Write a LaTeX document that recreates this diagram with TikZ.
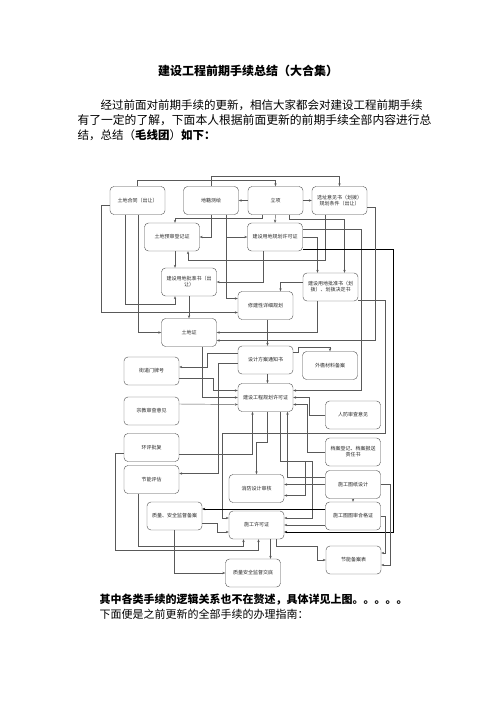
\documentclass[tikz,border=0pt]{standalone}
\usepackage{fontspec}
\setmainfont{Noto Sans CJK SC}
\usetikzlibrary{arrows.meta}

\tikzset{
  proc/.style={draw=black!70, rounded corners=4pt, minimum width=55pt, minimum height=28pt,
    inner sep=1pt, align=center, font=\fontsize{5}{6}\selectfont, text=black!85},
  wire/.style={draw=black!65, line width=0.45pt, ->},
  heavy/.style={draw=black, line width=0.6pt, ->},
  >={Stealth[length=3pt,width=2.4pt]}
}

\begin{document}
\begin{tikzpicture}[x=1pt, y=-1pt]
    \useasboundingbox (0,0) rectangle (496,702);

    % Title and text
    \node[font=\fontsize{12}{14}\selectfont\bfseries] (title) at (248,71) {建设工程前期手续总结（大合集）};
    \node[anchor=west, font=\fontsize{11.5}{14}\selectfont] (para1) at (97,105) {经过前面对前期手续的更新，相信大家都会对建设工程前期手续};
    \node[anchor=west, font=\fontsize{11.8}{14}\selectfont] (para2) at (74,120) {有了一定的了解，下面本人根据前面更新的前期手续全部内容进行总};
    \node[anchor=west, font=\fontsize{11.5}{14}\selectfont] (para3) at (74,135) {结，总结（{\bfseries 毛线团}）{\bfseries 如下：}};

    % Row 1
    \node[proc] (hetong) at (137.5,200.5) {土地合同（出让）};
    \node[proc] (diji) at (211,200.5) {地籍测绘};
    \node[proc] (lixiang) at (275.5,200.5) {立项};
    \node[proc] (xuanzhi) at (339.5,200.5) {选址意见书（划拨）\\规划条件（出让）};
    % Row 2
    \node[proc] (yushen) at (172,237) {土地预审登记证};
    \node[proc] (ydgh) at (275,237) {建设用地规划许可证};
    % Row 3
    \node[proc] (pzcr) at (189,282) {建设用地批准书（出\\让）};
    \node[proc] (pzhb) at (330.5,287) {建设用地批准书（划\\拨）、划拨决定书};
    \node[proc] (xxgh) at (265.5,305.5) {修建性详细规划};
    % Row 4
    \node[proc] (tdz) at (189,332.5) {土地证};
    \node[proc] (fatz) at (265.5,360) {设计方案通知书};
    \node[proc] (wycl) at (330,365.5) {外檐材料备案};
    \node[proc] (mph) at (151.5,371) {街道门牌号};
    % Row 5
    \node[proc] (gcgh) at (265.5,397.5) {建设工程规划许可证};
    \node[proc] (zjyj) at (151.5,411) {宗教审查意见};
    \node[proc] (rfyj) at (353,415) {人防审查意见};
    % Row 6
    \node[proc] (hp) at (151.5,447.5) {环评批复};
    \node[proc] (dadj) at (353,452) {档案登记、档案报送\\责任书};
    \node[proc] (jnpg) at (151.5,479.5) {节能评估};
    \node[proc] (sgtz) at (353,484.5) {施工图纸设计};
    \node[proc] (xfsh) at (256.5,488.5) {消防设计审核};
    % Row 7
    \node[proc] (zlba) at (174.5,516) {质量、安全监督备案};
    \node[proc] (sgxk) at (256.5,525) {施工许可证};
    \node[proc] (tsdz) at (353,516) {施工图图审合格证};
    % Row 8
    \node[proc] (jd) at (253,573) {质量安全监督交底};
    \node[proc] (jnba) at (353.5,560) {节能备案表};

    % Land and project approval
    \draw[wire] (hetong.north) -- ++(0,-6) -| (lixiang.north);
    \draw[wire] (diji.north) -- ++(0,-10) -| (xuanzhi.north);
    \draw[wire] (lixiang.west) -- (diji.east);
    \draw[wire] (lixiang.east) -- (xuanzhi.west);
    \draw[wire] (lixiang.south) -- (ydgh.north);
    \draw[wire] ([xshift=-13]lixiang.south) -- ++(0,4) -| ([xshift=3]yushen.north);
    \draw[wire] ([xshift=14]lixiang.south) -- ++(0,5) -| ([xshift=14]pzhb.north);
    \draw[wire] (diji.south) |- (yushen.east);
    \draw[wire] ([xshift=15]diji.south) |- ([yshift=7]xxgh.west);
    \draw[wire] ([xshift=15]diji.south) |- (ydgh.west);
    \draw[wire] ([yshift=-5]hetong.west) -- ++(-9,0) |- ([yshift=-7]xxgh.west);
    \draw[wire] ([xshift=-12]hetong.south) -- ++(0,90) -| ([xshift=-14]pzcr.south);
    \draw[wire] ([xshift=1]hetong.south) |- (tdz.west);
    \draw[wire] ([xshift=3]yushen.south) -- ([xshift=-14]pzcr.north);
    \draw[wire] ([xshift=-14]xuanzhi.south) -- ++(0,46) -| ([xshift=16]yushen.south);
    \draw[wire] ([xshift=-12]ydgh.south) |- (pzcr.east);
    \draw[wire] (ydgh.east) -| ([xshift=-13]pzhb.north);
    \draw[wire] ([yshift=8]ydgh.east) -- ++(59,0) |- ([yshift=7]gcgh.east);
    \draw[heavy] ([yshift=-12]ydgh.east) -- ++(91,0) |- ([yshift=-7]sgxk.east);
    \draw[wire] ([yshift=-7]xuanzhi.east) -- ++(8,0) |- ([yshift=-8]tdz.east);
    \draw[wire] ([xshift=-13]pzhb.south) |- (tdz.east);
    \draw[wire] ([yshift=5]pzhb.west) -| ([xshift=15]xxgh.north);
    \draw[wire] (pzcr.south) -- (tdz.north);
    \draw[wire] ([yshift=-13]pzhb.east) -- ++(27,0) |- (222,433) |- ([yshift=7]sgxk.west);

    % Planning permit
    \draw[wire] ([xshift=2]xxgh.south) -- ([xshift=2]fatz.north);
    \draw[wire] ([yshift=8]fatz.east) -- ++(5,0) -- ++(0,-5) -| (wycl.north);
    \draw[wire] ([yshift=7]fatz.west) -- ++(-31,0) |- ([yshift=4]mph.east);
    \draw[wire] ([yshift=-3]fatz.west) -- ++(-20,0) |- ([yshift=6]jnpg.east);
    \draw[wire] ([xshift=2]fatz.south) -- ([xshift=2]gcgh.north);
    \draw[wire] ([yshift=-7]mph.east) -- ++(34,0) |- ([yshift=7]gcgh.west);
    \draw[wire] ([xshift=13]tdz.south) |- (gcgh.west);
    \draw[wire] ([yshift=7]zjyj.east) -- ([yshift=-7]gcgh.west);
    \draw[wire] (rfyj.west) -- ++(-16,0) |- (gcgh.east);
    \draw[wire] (dadj.west) -- ++(-18,0) |- ([yshift=-7]gcgh.east);
    \draw[wire] ([yshift=-7]hp.east) -| ([xshift=-13]gcgh.south);

    % Construction permit
    \draw[wire] ([xshift=2]gcgh.south) -- ++(0,31) -| (xfsh.north);
    \draw[wire] ([xshift=15]gcgh.south) -- ++(0,50) -- ++(32,0) |- ([yshift=7]sgxk.east);
    \draw[wire] ([xshift=15]gcgh.south) -- ++(0,50) -- ++(25,0) |- ([yshift=-7]xfsh.east);
    \draw[wire] ([yshift=7]sgtz.west) -| ([xshift=22]gcgh.south);
    \draw[wire] (sgtz.west) -- (xfsh.east |- sgtz.west);
    \draw[wire] (sgtz.south) -- (tsdz.north);
    \draw[wire] (sgtz.east) -- ++(10,0) |- ([yshift=-5]jnba.east);
    \draw[wire] (tsdz.east) -- ++(5,0) |- ([yshift=7]jnba.east);
    \draw[heavy] ([yshift=7]tsdz.west) -- ([yshift=7]zlba.east);
    \draw[wire] (tsdz.west |- sgxk.east) -- (sgxk.east);
    \draw[wire] ([yshift=-7]zlba.east) -- ++(15,0) |- ([yshift=-7]sgxk.west);
    \draw[wire] (zlba.south) |- (jd.west);
    \draw[wire] ([xshift=14]sgxk.south) -- ([xshift=14]sgxk.south |- jd.north);
    \draw[wire] ([yshift=-6]hp.west) -- ++(-9,0) |- ([xshift=2,yshift=-11]sgxk.south) -- ([xshift=2]sgxk.south);
    \draw[wire] ([xshift=-13]jnpg.south) |- ([xshift=-13,yshift=-7]sgxk.south) -- ([xshift=-13]sgxk.south);
    \draw[wire] ([xshift=20]sgxk.south) -- ++(0,7) -- ++(41,0) |- (jnba.west);

    % Closing text
    \node[anchor=west, font=\fontsize{11}{13}\selectfont\bfseries] (summary) at (96,600) {其中各类手续的逻辑关系也不在赘述，具体详见上图。。。。。};
    \node[anchor=west, font=\fontsize{11}{13}\selectfont] (guide) at (96,614) {下面便是之前更新的全部手续的办理指南：};
\end{tikzpicture}
\end{document}
